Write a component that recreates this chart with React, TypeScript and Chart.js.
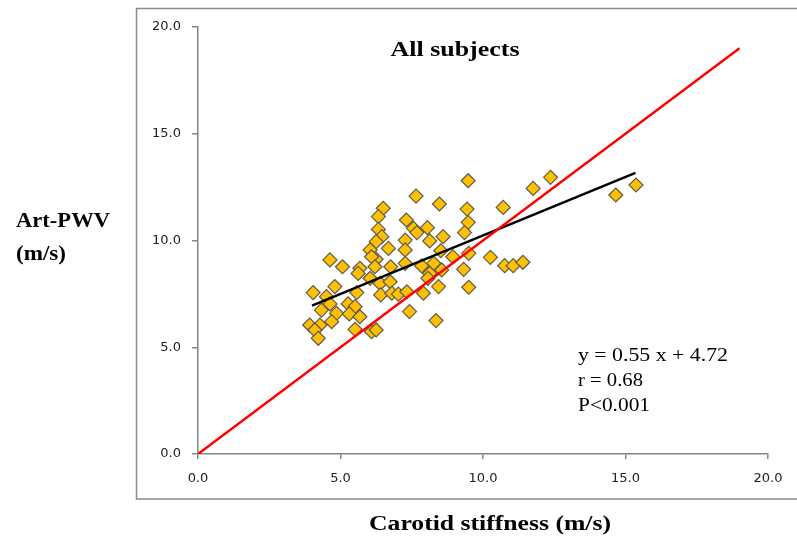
import React, { useEffect, useRef } from "react";
import { Chart, registerables } from "chart.js";

Chart.register(...registerables);

// Carotid stiffness (m/s) for every subject
const stiffness = [
  9.48, 7.65, 8.47, 6.5, 9.44, 6.33, 7.31, 9.48, 7.56, 8.05,
  6.33, 7.68, 9.35, 6.45, 8.6, 6.25, 7.27, 8.13, 6.68, 6.04,
  7.27, 8.52, 6.25, 6.09, 8.94, 4.63, 5.07, 5.68, 5.62, 6.21,
  6.76, 7.27, 7.85, 8.27, 8.13, 8.55, 9.32, 6.04, 6.39, 6.74,
  8.07, 8.44, 9.5, 4.8, 4.04, 5.57, 6.41, 6.8, 7.03, 7.33,
  7.91, 4.51, 4.63, 4.33, 5.27, 5.51, 4.86, 5.31, 5.68, 4.69,
  7.42, 3.92, 4.28, 4.1, 4.22, 5.51, 6.09, 6.25, 8.35, 11.76,
  12.37, 10.71, 9.5, 10.26, 10.76, 11.06, 11.4, 14.66, 15.37,
];

// Art-PWV (m/s) for every subject
const artPwv = [
  12.8, 12.08, 11.71, 11.51, 11.47, 11.12, 10.96, 10.85, 10.57, 10.6,
  10.52, 10.37, 10.37, 10.18, 10.18, 9.95, 10.02, 9.98, 9.63, 9.56,
  9.56, 9.52, 9.12, 9.24, 9.24, 9.09, 8.77, 8.7, 8.46, 8.77,
  8.77, 8.93, 8.81, 8.93, 8.46, 8.62, 8.65, 8.23, 7.99, 8.07,
  8.23, 7.84, 7.81, 7.84, 7.56, 7.56, 7.45, 7.53, 7.49, 7.6,
  7.53, 7.37, 7.03, 6.74, 7.03, 6.9, 6.59, 6.56, 6.43, 6.2,
  6.67, 6.04, 6.04, 5.81, 5.42, 5.84, 5.73, 5.81, 6.25, 12.44,
  12.96, 11.55, 9.4, 9.21, 8.82, 8.82, 8.98, 12.13, 12.6,
];

// Regression line end points (y = 0.55 x + 4.72)
const fitX = [4.0, 15.35];
const fitY = [6.95, 13.17];

// Line of identity
const identityX = [0, 19];
const identityY = [0, 19];

const axisMin = 0;
const axisMax = 20;
const tickStep = 5;

const chartTitle = "All subjects";
const xTitle = "Carotid stiffness (m/s)";
const yTitleLines = ["Art-PWV", "(m/s)"];
const statLines = ["y = 0.55 x + 4.72", "r = 0.68", "P<0.001"];

const W = 797;
const H = 543;

function fitText(
  ctx: CanvasRenderingContext2D,
  text: string,
  x: number,
  y: number,
  font: string,
  align: "left" | "center",
  targetWidth: number
) {
  ctx.save();
  ctx.font = font;
  ctx.textBaseline = "middle";
  ctx.textAlign = "left";
  const w = ctx.measureText(text).width;
  const s = targetWidth / w;
  const left = align === "center" ? x - targetWidth / 2 : x;
  ctx.translate(left, y);
  ctx.scale(s, 1);
  ctx.fillStyle = "#000";
  ctx.fillText(text, 0, 0);
  ctx.restore();
}

const decorPlugin = {
  id: "decor",
  beforeDraw(chart: any) {
    const ctx = chart.ctx as CanvasRenderingContext2D;
    ctx.save();
    ctx.fillStyle = "#fff";
    ctx.fillRect(0, 0, chart.width, chart.height);
    ctx.strokeStyle = "#8c8c8c";
    ctx.lineWidth = 1.5;
    ctx.beginPath();
    ctx.moveTo(W + 5, 8.5);
    ctx.lineTo(136.5, 8.5);
    ctx.lineTo(136.5, 499);
    ctx.lineTo(W + 5, 499);
    ctx.stroke();
    ctx.restore();
  },
  afterDraw(chart: any) {
    const ctx = chart.ctx as CanvasRenderingContext2D;
    const serifB = 'bold 21px "Liberation Serif", "DejaVu Serif", serif';
    const serif = '18px "Liberation Serif", "DejaVu Serif", serif';
    fitText(ctx, chartTitle, 455, 51, serifB, "center", 129);
    fitText(ctx, xTitle, 490, 525, serifB, "center", 242);
    fitText(ctx, yTitleLines[0], 16, 222, serifB, "left", 94);
    fitText(ctx, yTitleLines[1], 16, 255, serifB, "left", 50);
    fitText(ctx, statLines[0], 578, 356, serif, "left", 150);
    fitText(ctx, statLines[1], 578, 381, serif, "left", 65);
    fitText(ctx, statLines[2], 578, 406, serif, "left", 72);
  },
};

export default function App() {
  const ref = useRef<HTMLCanvasElement | null>(null);

  useEffect(() => {
    if (!ref.current) return;
    const points = stiffness.map((x, i) => ({ x, y: artPwv[i] }));
    const fit = fitX.map((x, i) => ({ x, y: fitY[i] }));
    const identity = identityX.map((x, i) => ({ x, y: identityY[i] }));
    const tickFont = { family: '"DejaVu Sans", Verdana, sans-serif', size: 13 };
    const axisColor = "#868686";

    const chart = new Chart(ref.current, {
      type: "scatter",
      data: {
        datasets: [
          {
            type: "line",
            data: identity,
            borderColor: "#ff0000",
            borderWidth: 2.5,
            pointRadius: 0,
            showLine: true,
            fill: false,
            order: 0,
          } as any,
          {
            type: "line",
            data: fit,
            borderColor: "#000000",
            borderWidth: 2.5,
            pointRadius: 0,
            showLine: true,
            fill: false,
            order: 1,
          } as any,
          {
            type: "scatter",
            data: points,
            pointStyle: "rectRot",
            pointRadius: 7,
            backgroundColor: "#FFC000",
            borderColor: "#5f5a4a",
            borderWidth: 1.2,
            order: 2,
          } as any,
        ],
      },
      options: {
        animation: false,
        responsive: false,
        devicePixelRatio: 1,
        layout: { padding: { left: 138, right: 29, top: 27, bottom: 39 } },
        plugins: {
          legend: { display: false },
          tooltip: { enabled: false },
          title: { display: false },
        },
        scales: {
          x: {
            type: "linear",
            min: axisMin,
            max: axisMax,
            afterFit: (s: any) => {
              s.height = 50;
            },
            ticks: {
              stepSize: tickStep,
              callback: (v: any) => Number(v).toFixed(1),
              font: tickFont,
              color: "#222",
              padding: 12,
              maxRotation: 0,
            },
            grid: {
              display: true,
              drawOnChartArea: false,
              drawTicks: true,
              tickLength: 5,
              color: axisColor,
              lineWidth: 1.5,
            },
            border: { display: true, color: axisColor, width: 1.5 },
          },
          y: {
            type: "linear",
            min: axisMin,
            max: axisMax,
            afterFit: (s: any) => {
              s.width = 60;
            },
            ticks: {
              stepSize: tickStep,
              callback: (v: any) => Number(v).toFixed(1),
              font: tickFont,
              color: "#222",
              padding: 11,
            },
            grid: {
              display: true,
              drawOnChartArea: false,
              drawTicks: true,
              tickLength: 6,
              color: axisColor,
              lineWidth: 1.5,
            },
            border: { display: true, color: axisColor, width: 1.5 },
          },
        },
      } as any,
      plugins: [decorPlugin],
    });
    return () => chart.destroy();
  }, []);

  return (
    <div style={{ position: "fixed", left: 0, top: 0, width: W, height: H, background: "#fff" }}>
      <canvas ref={ref} width={W} height={H} style={{ width: W, height: H, display: "block" }} />
    </div>
  );
}
